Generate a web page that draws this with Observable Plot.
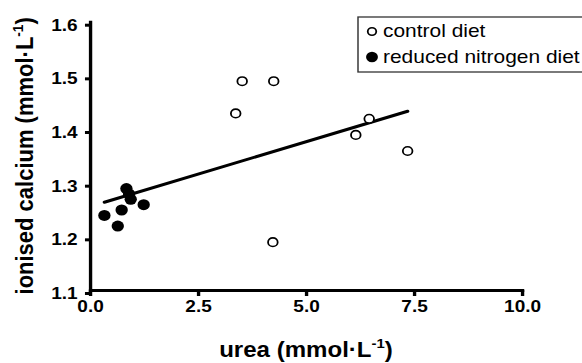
<!DOCTYPE html>
<html><head><meta charset="utf-8">
<script src="https://cdn.jsdelivr.net/npm/d3@7"></script>
<script src="https://cdn.jsdelivr.net/npm/@observablehq/plot@0.6"></script>
<style>
body{margin:0;background:#fff;}
#chart svg{display:block;}
</style>
</head><body><div id="chart"></div>
<script>
// Data
const controlUrea    = [3.36, 3.51, 4.24, 4.22, 6.14, 6.45, 7.34];
const controlCalcium = [1.43, 1.49, 1.49, 1.19, 1.39, 1.42, 1.36];
const reducedUrea    = [0.32, 0.63, 0.72, 0.83, 0.89, 0.93, 1.23];
const reducedCalcium = [1.24, 1.22, 1.25, 1.29, 1.28, 1.27, 1.26];
const xTicks = [0, 2.5, 5, 7.5, 10];
const yTicks = [1.1, 1.2, 1.3, 1.4, 1.5, 1.6];
const seriesNames = ["control diet", "reduced nitrogen diet"];
const xLabel = ["urea (mmol·L", "-1", ")"];
const yLabel = ["ionised calcium (mmol·L", "-1", ")"];

const control = controlUrea.map((u, i) => ({urea: u, calcium: controlCalcium[i], group: seriesNames[0]}));
const reduced = reducedUrea.map((u, i) => ({urea: u, calcium: reducedCalcium[i], group: seriesNames[1]}));
const all = control.concat(reduced);

const FONT = "'Liberation Sans', Arial, Helvetica, sans-serif";
const SX = 1.12;            // the reference is slightly stretched horizontally
const OUTW = 582, H = 363;
const W = OUTW / SX;
const fmt = d3.format(".1f");

const svg = Plot.plot({
  width: W, height: H,
  marginLeft: 90 / SX, marginRight: W - 522 / SX, marginTop: 21.7, marginBottom: 73,
  style: {fontFamily: FONT, fontSize: "17px", fontWeight: "bold", color: "black", background: "white", overflow: "visible"},
  x: {domain: [0, 10]},
  y: {domain: [1.1, 1.6]},
  marks: [
    Plot.axisX(xTicks, {tickSize: 6, strokeWidth: 3, tickPadding: 3, tickFormat: fmt, label: null}),
    Plot.axisY(yTicks, {tickSize: 4.5, strokeWidth: 3, tickPadding: 7, dy: 3, tickFormat: fmt, label: null}),
    Plot.frame({anchor: "left", strokeWidth: 3, strokeLinecap: "square"}),
    Plot.frame({anchor: "bottom", strokeWidth: 3, strokeLinecap: "square"}),
    Plot.linearRegressionY(all, {x: "urea", y: "calcium", stroke: "black", strokeWidth: 3, ci: 0}),
    Plot.dot(control, {x: "urea", y: "calcium", r: 4.3, fill: "white", stroke: "black", strokeWidth: 1.6}),
    Plot.dot(reduced, {x: "urea", y: "calcium", r: 5.5, fill: "black", stroke: "none"})
  ]
});

svg.setAttribute("width", OUTW);
svg.setAttribute("height", H);
svg.setAttribute("preserveAspectRatio", "none");
svg.style.width = OUTW + "px";
svg.style.height = H + "px";
svg.style.maxWidth = "none";

const sel = d3.select(svg);
// tick label font
sel.selectAll("g[aria-label$='tick label']")
  .attr("font-size", 17).style("font-size", "17px").style("font-weight", "bold")
  .style("font-family", FONT);

function addLabel(parts, x, y, rotate, size) {
  const t = sel.append("text")
    .attr("transform", `translate(${x},${y})` + (rotate ? " rotate(-90)" : ""))
    .attr("text-anchor", "middle")
    .style("font-family", FONT).style("font-weight", "bold").style("font-size", size + "px")
    .attr("fill", "black");
  t.append("tspan").text(parts[0]);
  t.append("tspan").attr("dy", -size * 0.42).style("font-size", (size * 0.62) + "px").text(parts[1]);
  t.append("tspan").attr("dy", size * 0.42).text(parts[2]);
}
const xMid = (90 / SX + 522 / SX) / 2;
addLabel(xLabel, xMid, 357, false, 21.5);
addLabel(yLabel, 33 / SX, (21.7 + 290) / 2, true, 22);

// Legend
const lg = sel.append("g");
lg.append("rect").attr("x", 358 / SX).attr("y", 17).attr("width", 240 / SX).attr("height", 55)
  .attr("fill", "white").attr("stroke", "#333").attr("stroke-width", 1.3);
const lx = 372 / SX;
lg.append("circle").attr("cx", lx).attr("cy", 31.5).attr("r", 3.8).attr("fill", "white").attr("stroke", "black").attr("stroke-width", 1.6);
lg.append("circle").attr("cx", lx).attr("cy", 57).attr("r", 5.3).attr("fill", "black");
seriesNames.forEach((name, i) => {
  lg.append("text").attr("x", 383 / SX).attr("y", [37.5, 63.5][i])
    .attr("text-anchor", "start")
    .style("font-family", FONT).style("font-weight", "normal").style("font-size", "18.7px")
    .attr("fill", "black").text(name);
});

document.getElementById("chart").appendChild(svg);
</script>
</body></html>
